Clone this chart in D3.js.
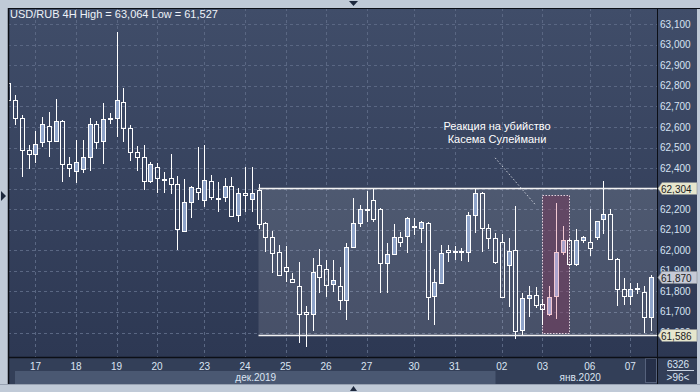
<!DOCTYPE html>
<html>
<head>
<meta charset="utf-8">
<script src="https://cdn.jsdelivr.net/npm/d3@7"></script>
<style>
body { margin: 0; background: #c0cad7; }
svg { display: block; font-family: "Liberation Sans", Arial, sans-serif; }
</style>
</head>
<body>
<svg id="chart" width="700" height="392"></svg>
<script>
// USD/RUB 4H candles, 96 bars (17 Dec 2019 - 07 Jan 2020)
var opens  = [62.813,62.732,62.643,62.488,62.467,62.529,62.605,62.534,62.629,62.419,62.388,62.396,62.453,62.615,62.534,62.644,
              62.643,62.720,62.594,62.480,62.453,62.339,62.407,62.348,62.351,62.321,62.096,62.234,62.302,62.244,62.336,62.257,
              62.258,62.312,62.172,62.278,62.248,62.294,62.132,62.063,61.991,61.918,61.861,61.825,61.698,61.689,61.927,61.909,
              61.835,61.825,61.757,62.018,62.132,62.202,62.244,62.200,61.940,61.981,62.063,62.071,62.118,62.110,62.134,61.779,
              61.842,62.002,61.999,61.999,61.991,62.172,62.278,62.110,62.058,62.039,61.927,62.002,61.612,61.766,61.783,61.737,
              61.690,61.778,61.991,62.050,61.932,62.049,62.039,62.066,62.152,62.175,61.958,61.810,61.778,61.816,61.799,61.674];
var highs  = [62.830,62.756,62.659,62.513,62.581,62.650,62.675,62.736,62.634,62.453,62.537,62.537,62.643,62.631,62.716,62.670,
              63.064,62.789,62.610,62.508,62.513,62.428,62.423,62.380,62.469,62.362,62.346,62.313,62.502,62.513,62.367,62.333,
              62.351,62.355,62.302,62.404,62.407,62.323,62.139,62.096,62.026,62.021,61.891,61.945,61.731,61.961,62.005,61.953,
              61.953,61.918,62.034,62.253,62.221,62.289,62.302,62.205,62.034,62.128,62.091,62.164,62.156,62.144,62.139,61.908,
              62.026,62.026,62.021,62.010,62.188,62.302,62.282,62.128,62.083,62.080,62.058,62.216,61.794,61.826,61.823,61.761,
              61.826,62.232,62.118,62.055,62.102,62.071,62.201,62.144,62.339,62.200,61.961,61.864,61.840,61.840,61.826,61.880];
var lows   = [62.720,62.610,62.358,62.396,62.423,62.504,62.456,62.529,62.334,62.355,62.329,62.375,62.388,62.492,62.419,62.615,
              62.553,62.529,62.436,62.388,62.294,62.329,62.281,62.281,62.274,62.002,62.091,62.159,62.245,62.212,62.245,62.188,
              62.237,62.164,62.139,62.188,62.188,62.102,61.993,61.891,61.876,61.846,61.844,61.548,61.527,61.609,61.791,61.771,
              61.799,61.710,61.661,62.010,62.115,62.139,62.136,61.791,61.794,61.980,62.015,61.986,62.075,62.034,61.661,61.637,
              61.841,61.945,61.953,61.950,61.945,62.083,61.993,62.005,61.932,61.770,61.726,61.567,61.583,61.677,61.718,61.637,
              61.680,61.664,61.977,61.924,61.924,62.037,61.974,62.050,62.080,61.953,61.731,61.734,61.734,61.786,61.599,61.609];
var closes = [62.732,62.643,62.488,62.467,62.518,62.615,62.534,62.629,62.419,62.399,62.428,62.453,62.615,62.529,62.639,62.643,
              62.732,62.594,62.480,62.453,62.339,62.419,62.351,62.347,62.321,62.102,62.235,62.307,62.282,62.341,62.258,62.256,
              62.312,62.169,62.278,62.269,62.278,62.127,62.063,61.986,61.878,61.899,61.846,61.689,61.689,61.893,61.869,61.830,
              61.854,61.757,62.015,62.132,62.200,62.201,62.154,61.940,61.981,62.063,62.042,62.156,62.117,62.136,61.774,61.844,
              61.986,61.992,61.998,61.998,62.172,62.278,62.107,62.058,61.942,61.771,61.997,61.609,61.766,61.783,61.732,61.713,
              61.774,61.991,62.050,61.932,62.050,62.063,62.010,62.143,62.175,61.958,61.810,61.778,61.810,61.815,61.674,61.870];

var dayLabels = ["17","18","19","20","23","24","25","26","27","30","31","02","03","06","07"];
var daySlots  = [4,10,16,22,29,35,41,47,53,60,66,73,79,86,92];
var monthLabels = ["дек.2019","янв.2020"];
var monthFirst  = [0,73];
var monthLast   = [72,95];
var priceTicks = [61.6,61.7,61.8,61.9,62.0,62.1,62.2,62.3,62.4,62.5,62.6,62.7,62.8,62.9,63.0,63.1];

var rangeTop = 62.304, rangeBottom = 61.586, rangeStart = 37;
var lastPrice = 61.870;
var markFrom = 79, markTo = 83, markTop = 62.268, markBottom = 61.600;
var noteLines = ["Реакция на убийство", "Касема Сулеймани"];
var titleText = "USD/RUB 4H High = 63,064 Low = 61,527";
var footTop = "6326", footBottom = ">96<";

var svg = d3.select("#chart");
var plotL = 8, plotT = 8, plotR = 657, plotB = 357, axisR = 697, frameB = 384;

var x = d3.scaleLinear().domain([0, 95]).range([8.4, 650.6]);
var y = d3.scaleLinear().domain([61.6, 63.1]).range([332.5, 24.3]);
var ru = d3.formatLocale({decimal: ",", thousands: " ", grouping: [3], currency: ["", ""]});
var fmt = ru.format(".3f");

var defs = svg.append("defs");
var grad = defs.append("linearGradient").attr("id", "bg").attr("x1", 0).attr("y1", 0).attr("x2", 0).attr("y2", 1);
grad.append("stop").attr("offset", "0%").attr("stop-color", "#404d69");
grad.append("stop").attr("offset", "100%").attr("stop-color", "#2d3853");
defs.append("clipPath").attr("id", "plotclip").append("rect")
    .attr("x", plotL + 1).attr("y", plotT + 1).attr("width", plotR - plotL - 1).attr("height", plotB - plotT - 1);

// frame
svg.append("rect").attr("x", 0).attr("y", 0).attr("width", 700).attr("height", 392).style("fill", "#c0cad7");
svg.append("rect").attr("x", plotL).attr("y", plotT).attr("width", axisR - plotL).attr("height", plotB - plotT).style("fill", "url(#bg)");
svg.append("rect").attr("x", plotL).attr("y", plotB).attr("width", axisR - plotL).attr("height", frameB - plotB).style("fill", "#333f58");
svg.append("rect").attr("x", 15).attr("y", 371).attr("width", x(monthLast[0] + 0.5) - 18).attr("height", frameB - 371).style("fill", "#4a5872");
svg.append("rect").attr("x", 645.5).attr("y", 358.5).attr("width", 11).attr("height", 24).style("fill", "#263049").style("stroke", "#56627c").style("stroke-width", 1);

var plot = svg.append("g").attr("clip-path", "url(#plotclip)");

// grid
priceTicks.forEach(function(p) {
  var gy = Math.round(y(p)) + 0.5;
  plot.append("line").attr("x1", plotL).attr("x2", plotR).attr("y1", gy).attr("y2", gy)
      .style("stroke", "#5a6783").style("stroke-width", 1).style("stroke-dasharray", "3,3");
});
daySlots.forEach(function(s) {
  var gx = Math.round(x(s)) + 0.5;
  plot.append("line").attr("x1", gx).attr("x2", gx).attr("y1", plotT).attr("y2", plotB)
      .style("stroke", "#5a6783").style("stroke-width", 1).style("stroke-dasharray", "3,3");
});

// range box
plot.append("rect").attr("x", x(rangeStart)).attr("y", y(rangeTop)).attr("width", plotR - x(rangeStart))
    .attr("height", y(rangeBottom) - y(rangeTop)).style("fill", "#ffffff").style("opacity", 0.12);

// highlight box
plot.append("rect").attr("x", Math.round(x(markFrom)) + 0.5).attr("y", Math.round(y(markTop)) + 0.5)
    .attr("width", Math.round(x(markTo)) - Math.round(x(markFrom)))
    .attr("height", Math.round(y(markBottom)) - Math.round(y(markTop)))
    .style("fill", "rgba(120,55,90,0.5)").style("stroke", "#e2d0dc").style("stroke-width", 1).style("stroke-dasharray", "1.5,1.5");

// candles
for (let i = 0; i < opens.length; i++) {
  let cx = Math.round(x(i)) + 0.5;
  let up = closes[i] > opens[i];
  let pink = i > markFrom && i < markTo;
  let edge = pink ? "#f2c8d2" : "#ffffff";
  let bodyFill = up ? (pink ? "#aaa2cc" : "#8fa4ca") : "none";
  let bTop = Math.round(y(Math.max(opens[i], closes[i])));
  let bBot = Math.round(y(Math.min(opens[i], closes[i])));
  if (bBot - bTop < 1) bBot = bTop + 1;
  plot.append("line").attr("x1", cx).attr("x2", cx).attr("y1", Math.round(y(highs[i]))).attr("y2", bTop)
      .style("stroke", edge).style("stroke-width", 1);
  plot.append("line").attr("x1", cx).attr("x2", cx).attr("y1", bBot).attr("y2", Math.round(y(lows[i])))
      .style("stroke", edge).style("stroke-width", 1);
  plot.append("rect").attr("x", cx - 2).attr("y", bTop + 0.5).attr("width", 4).attr("height", bBot - bTop)
      .style("fill", bodyFill).style("stroke", edge).style("stroke-width", 1);
}

// range lines
[rangeTop, rangeBottom].forEach(function(p) {
  var ly = Math.round(y(p)) + 0.5;
  plot.append("line").attr("x1", x(rangeStart)).attr("x2", plotR).attr("y1", ly).attr("y2", ly)
      .style("stroke", "#f2f2f2").style("stroke-width", 1.3);
});

// annotation
plot.append("line").attr("x1", x(72)).attr("y1", y(62.45)).attr("x2", x(78)).attr("y2", y(62.22))
    .style("stroke", "#c8ccd6").style("stroke-width", 1).style("stroke-dasharray", "1.5,2");
noteLines.forEach(function(t, k) {
  svg.append("text").attr("x", 497).attr("y", 130 + k * 13).text(t)
     .style("font-size", "11px").style("fill", "#ffffff").attr("text-anchor", "middle");
});

svg.append("text").attr("x", 10).attr("y", 18).text(titleText).style("font-size", "11px").style("fill", "#eef2f8");

// borders
svg.append("line").attr("x1", plotL).attr("x2", 700).attr("y1", plotT + 0.5).attr("y2", plotT + 0.5).style("stroke", "#0c0f16").style("stroke-width", 1);
svg.append("line").attr("x1", plotL + 0.5).attr("x2", plotL + 0.5).attr("y1", plotT).attr("y2", frameB).style("stroke", "#0c0f16").style("stroke-width", 1.5);
svg.append("line").attr("x1", plotL).attr("x2", axisR).attr("y1", plotB + 0.5).attr("y2", plotB + 0.5).style("stroke", "#0c0f16").style("stroke-width", 1.5);
svg.append("line").attr("x1", plotR + 0.5).attr("x2", plotR + 0.5).attr("y1", plotT).attr("y2", frameB).style("stroke", "#0c0f16").style("stroke-width", 1);
svg.append("line").attr("x1", 0).attr("x2", 700).attr("y1", frameB + 0.5).attr("y2", frameB + 0.5).style("stroke", "#98a2b2").style("stroke-width", 1);

// price axis
priceTicks.forEach(function(p) {
  svg.append("text").attr("x", 660).attr("y", y(p) + 3.5).text(fmt(p))
     .style("font-size", "10px").style("fill", "#d6e2f2");
});
function tag(p, color) {
  var ty = Math.round(y(p)) + 0.5;
  svg.append("path").attr("d", "M" + (plotR + 1) + "," + ty + "L" + (plotR + 5) + "," + (ty - 6) + "L" + axisR + "," + (ty - 6) +
      "L" + axisR + "," + (ty + 6) + "L" + (plotR + 5) + "," + (ty + 6) + "Z")
     .style("fill", color).style("stroke", "#8a8e96").style("stroke-width", 0.6);
  svg.append("text").attr("x", 661).attr("y", ty + 4).text(fmt(p)).style("font-size", "10px").style("fill", "#1c1c1c");
}
tag(rangeTop, "#e6e6cd");
tag(lastPrice, "#c6cad6");
tag(rangeBottom, "#e6e6cd");

// time axis
dayLabels.forEach(function(d, k) {
  svg.append("text").attr("x", x(daySlots[k])).attr("y", 369.5).text(d)
     .style("font-size", "10px").style("fill", "#dbe5f3").attr("text-anchor", "middle");
});
monthLabels.forEach(function(m, k) {
  var mx = (x(monthFirst[k]) + x(monthLast[k])) / 2 + 4;
  svg.append("text").attr("x", mx).attr("y", 381).text(m)
     .style("font-size", "10px").style("fill", "#dbe5f3").attr("text-anchor", "middle");
});
svg.append("text").attr("x", 678).attr("y", 368).text(footTop).style("font-size", "10px").style("fill", "#dbe5f3").attr("text-anchor", "middle");
svg.append("line").attr("x1", 667).attr("x2", 694).attr("y1", 370.5).attr("y2", 370.5).style("stroke", "#c8d2e0").style("stroke-width", 1);
svg.append("text").attr("x", 678).attr("y", 381).text(footBottom).style("font-size", "10px").style("fill", "#dbe5f3").attr("text-anchor", "middle");

// scroll markers
svg.append("path").attr("d", "M349,1L358,1L353.5,6Z").style("fill", "#1d283d");
svg.append("path").attr("d", "M350,391L357,391L353.5,386Z").style("fill", "#1d283d");
svg.append("path").attr("d", "M1,191L6,196L1,201Z").style("fill", "#1d283d");
</script>
</body>
</html>
